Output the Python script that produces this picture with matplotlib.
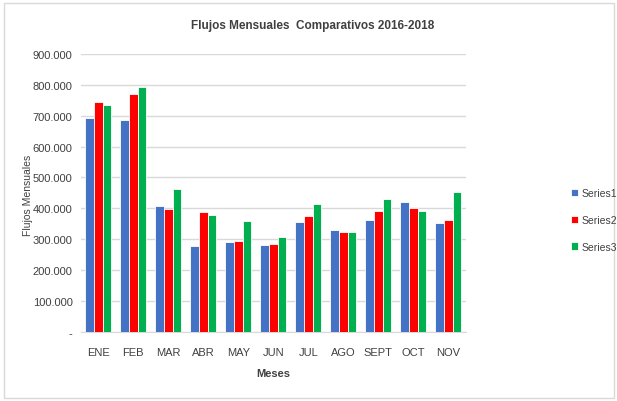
import numpy as np
import matplotlib.pyplot as plt
from matplotlib.patches import Rectangle
from matplotlib.ticker import FuncFormatter

meses = ['ENE', 'FEB', 'MAR', 'ABR', 'MAY', 'JUN', 'JUL', 'AGO', 'SEPT', 'OCT', 'NOV']
series1 = [691000, 687000, 408000, 277000, 290000, 281000, 357000, 329000, 361000, 422000, 353000]
series2 = [744000, 770000, 399000, 388000, 294000, 285000, 374000, 324000, 390000, 402000, 361000]
series3 = [736000, 793000, 462000, 379000, 358000, 306000, 415000, 324000, 431000, 393000, 452000]
nombres = ['Series1', 'Series2', 'Series3']
colores = ['#4472C4', '#FF0000', '#00B050']

plt.rcParams['font.family'] = ['Liberation Sans', 'DejaVu Sans']

fig = plt.figure(figsize=(6.17, 4.02), dpi=100)
ax = fig.add_axes([0.131, 0.1716, 0.624, 0.692])

# marco gris del grafico
fig.patches.append(Rectangle((0.007, 0.008), 0.988, 0.982, transform=fig.transFigure,
                             fill=False, edgecolor='#D9D9D9', linewidth=1))

x = np.arange(len(meses))
w = 0.245
for i, (vals, nom, col) in enumerate(zip([series1, series2, series3], nombres, colores)):
    ax.bar(x + (i - 1) * w, vals, width=w, color=col, edgecolor='white',
           linewidth=0.6, label=nom, zorder=3)

ax.set_xlim(-0.5, len(meses) - 0.5)
ax.set_ylim(0, 900000)
ax.set_yticks(np.arange(0, 900001, 100000))
ax.yaxis.set_major_formatter(FuncFormatter(
    lambda v, p: '-' if v == 0 else f'{int(v):,}'.replace(',', '.')))
ax.set_xticks(x)
ax.set_xticklabels(meses)
ax.tick_params(axis='both', length=0, labelsize=8, colors='#404040')
ax.tick_params(axis='x', pad=11)
ax.tick_params(axis='y', pad=6)
ax.grid(axis='y', color='#D9D9D9', linewidth=1, zorder=0)
for s in ['top', 'right', 'left']:
    ax.spines[s].set_visible(False)
ax.spines['bottom'].set_color('#D9D9D9')

ax.set_xlabel('Meses', fontsize=8, fontweight='bold', color='#404040', labelpad=8)
fig.text(0.045, 0.515, 'Flujos Mensuales', rotation=90, ha='center', va='center',
         fontsize=7.5, color='#404040')
fig.text(0.507, 0.935, 'Flujos Mensuales  Comparativos 2016-2018', ha='center',
         va='center', fontsize=8.5, fontweight='bold', color='#404040')

fig.legend(loc='center left', bbox_to_anchor=(0.91, 0.45), frameon=False,
           fontsize=7.5, handlelength=0.7, handleheight=0.7, handletextpad=0.3,
           labelspacing=1.6, labelcolor='#404040')

fig.savefig('out.png', dpi=100)
